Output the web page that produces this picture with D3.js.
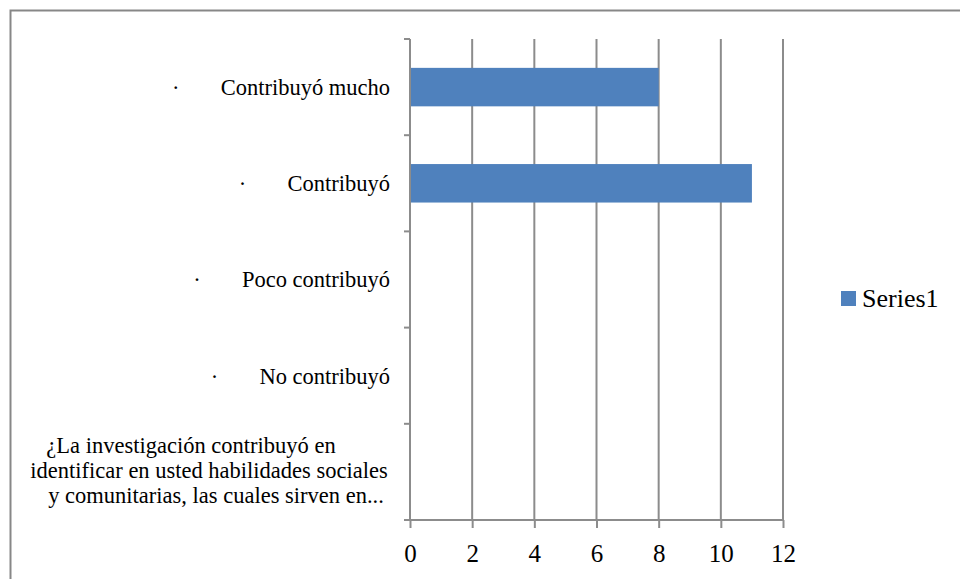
<!DOCTYPE html>
<html><head><meta charset="utf-8">
<script src="https://cdn.jsdelivr.net/npm/d3@7"></script>
<style>
html,body{margin:0;padding:0;background:#fff;}
svg{display:block;}
text{font-family:"Liberation Serif","DejaVu Serif",serif;fill:#000;}
</style></head>
<body>
<svg id="chart" width="960" height="579"></svg>
<script>
const categories = ["Contribuyó mucho","Contribuyó","Poco contribuyó","No contribuyó","¿La investigación contribuyó en\nidentificar en usted habilidades sociales\ny comunitarias, las cuales sirven en..."];
const bulleted = [true,true,true,true,false];
const values = [8,11,0,0,0];
const xTicks = [0,2,4,6,8,10,12];
const seriesName = "Series1";

const svg = d3.select("#chart");
const gridColor = "#8c8c8c";
const barColor = "#4f81bd";

svg.append("rect").attr("x",10.5).attr("y",10.5).attr("width",980).attr("height",620)
  .attr("fill","none").attr("stroke","#878787").attr("stroke-width",2);

const x = d3.scaleLinear().domain([0,12]).range([410,783]);
const y = d3.scaleBand().domain(categories).range([39,520]).paddingInner(0.6).paddingOuter(0.3);
const band = d3.scaleBand().domain(categories).range([39,520]);

// gridlines
svg.append("g").selectAll("line").data(xTicks.slice(1)).join("line")
  .attr("x1",d=>x(d)).attr("x2",d=>x(d)).attr("y1",39).attr("y2",520)
  .attr("stroke",gridColor).attr("stroke-width",2);

// bars
svg.append("g").selectAll("rect").data(values).join("rect")
  .attr("x",x(0)).attr("y",(d,i)=>y(categories[i]))
  .attr("width",d=>x(d)-x(0)).attr("height",y.bandwidth())
  .attr("fill",barColor);

// x axis
const xAxis = svg.append("g").attr("transform","translate(0,520)")
  .call(d3.axisBottom(x).tickValues(xTicks).tickSize(8).tickPadding(16));
xAxis.select(".domain").attr("stroke",gridColor).attr("stroke-width",2).attr("d","M404,0H783");
xAxis.selectAll(".tick line").attr("stroke",gridColor).attr("stroke-width",2);
xAxis.selectAll(".tick text").attr("font-size",25).attr("font-family","Liberation Serif").attr("fill","#000");

// y axis
const boundaries = categories.map(c=>band(c)).concat([520]);
svg.append("line").attr("x1",410).attr("x2",410).attr("y1",39).attr("y2",520)
  .attr("stroke",gridColor).attr("stroke-width",2);
svg.append("g").selectAll("line").data(boundaries).join("line")
  .attr("x1",404).attr("x2",410).attr("y1",d=>d).attr("y2",d=>d)
  .attr("stroke",gridColor).attr("stroke-width",2);

// category labels
const fs = 22.5;
const lab = svg.append("g");
categories.forEach((c,i)=>{
  const cy = band(c)+band.bandwidth()/2;
  const lines = c.split("\n");
  if(lines.length===1){
    const t = lab.append("text").attr("x",390).attr("y",cy).attr("dy","0.35em")
      .attr("text-anchor","end").attr("font-size",fs).text(c);
    if(bulleted[i]){
      const w = t.node().getComputedTextLength();
      lab.append("text").attr("x",390-w-45).attr("y",cy).attr("dy","0.35em")
        .attr("text-anchor","middle").attr("font-size",fs).text("·");
    }
  } else {
    const offs = [-18,0,7];
    lines.forEach((l,j)=>{
      lab.append("text").attr("x",209+offs[j]).attr("y",cy-2+(j-1)*25).attr("dy","0.35em")
        .attr("text-anchor","middle").attr("font-size",fs).text(l);
    });
  }
});

// legend
svg.append("rect").attr("x",841).attr("y",291).attr("width",15).attr("height",15).attr("fill",barColor);
svg.append("text").attr("x",862).attr("y",307).attr("font-size",26).text(seriesName);
</script>
</body></html>
